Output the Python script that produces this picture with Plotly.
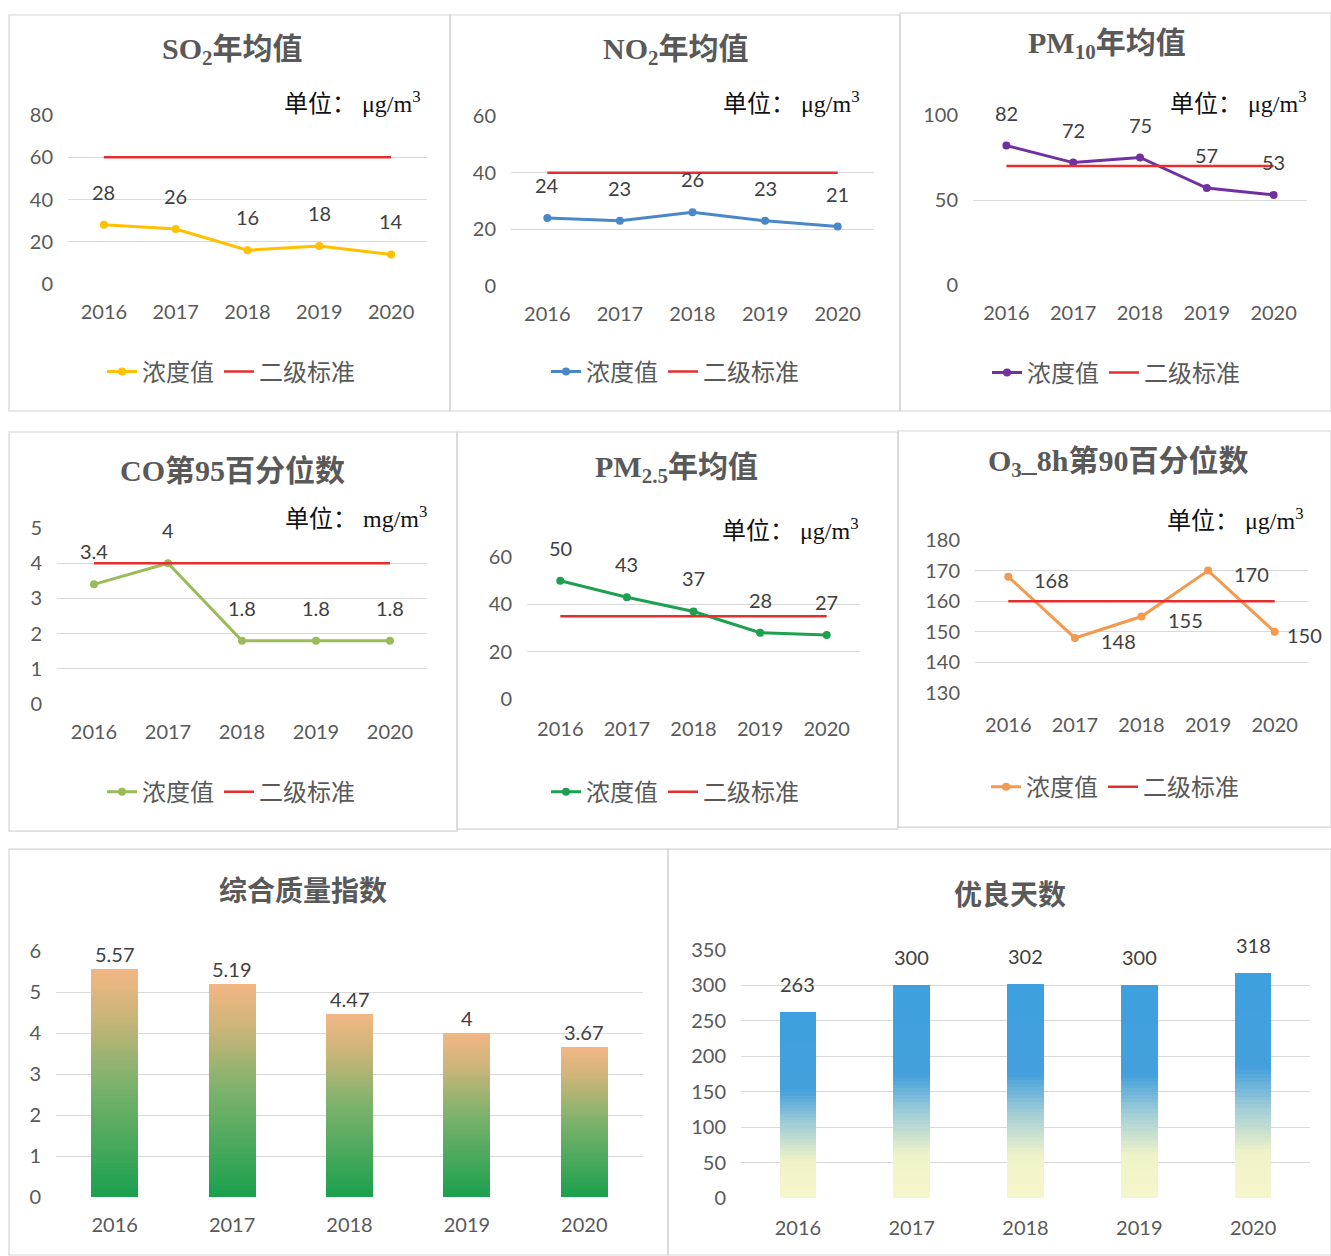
import plotly.graph_objects as go

W = 1331
# The renderer shows the page with a small top offset and a slight vertical squeeze;
# reference pixel rows are mapped through these two constants.
Y_OFF = 12
Y_SCALE = 0.981
H = 1266

years = ["2016", "2017", "2018", "2019", "2020"]

so2 = [28, 26, 16, 18, 14]
so2_std = [60, 60, 60, 60, 60]
no2 = [24, 23, 26, 23, 21]
no2_std = [40, 40, 40, 40, 40]
pm10 = [82, 72, 75, 57, 53]
pm10_std = [70, 70, 70, 70, 70]
co = [3.4, 4, 1.8, 1.8, 1.8]
co_std = [4, 4, 4, 4, 4]
pm25 = [50, 43, 37, 28, 27]
pm25_std = [35, 35, 35, 35, 35]
o3 = [168, 148, 155, 170, 150]
o3_std = [160, 160, 160, 160, 160]
aqi_index = [5.57, 5.19, 4.47, 4, 3.67]
good_days = [263, 300, 302, 300, 318]

legend_names = ["浓度值", "二级标准"]

GRID = "#D9D9D9"
TXT = "#595959"
LBL = "#404040"
RED = "#E62E2E"
TICKFONT = dict(family="Lato, Noto Sans CJK SC", size=20, color=TXT)
TITLEFONT_SERIF = dict(family="Liberation Serif, Noto Sans CJK SC", size=30, color=TXT)
TITLEFONT_SANS = dict(family="Noto Sans CJK SC", size=28, color=TXT)
UNITFONT = dict(family="Liberation Serif, Noto Sans CJK SC", size=24, color="#111111")


def xd(a, b):
    return [a / W, b / W]


def px_y(py):
    # py given in reference-image pixels
    yf = (py - Y_OFF) / Y_SCALE
    return 1 - yf / H


def yd(top, bot):
    return [px_y(bot), px_y(top)]


def clamp(v):
    return max(0.0, min(1.0, v))


fig = go.Figure()
annotations = []
shapes = []
layout = {}

# panel borders
borders = [(9, 14, 450, 410), (450, 14, 900, 410), (900, 12, 1331, 410),
           (9, 431, 457, 830), (457, 431, 898, 828), (898, 430, 1331, 826),
           (9, 848, 668, 1256), (668, 848, 1331, 1256)]
for (x0, y0, x1, y1) in borders:
    shapes.append(dict(type="rect", xref="paper", yref="paper",
                       x0=x0 / W, x1=x1 / W, y0=clamp(px_y(y1)), y1=clamp(px_y(y0)),
                       line=dict(color="#D4D4D4", width=1.2), fillcolor="rgba(0,0,0,0)",
                       layer="below"))

line_panels = [
    dict(vals=so2, std=so2_std, color="#FFC000", x=(68, 427), y=(114, 283), rng=[0, 80], dtick=20,
         title="<b>SO<sub>2</sub>年均值</b>", tx=232, ty=50,
         unit="单位： μg/m<sup>3</sup>", ux=423, uy=101, legx=231, legy=371, xlab_gap=10),
    dict(vals=no2, std=no2_std, color="#4A87C9", x=(511, 874), y=(115, 285), rng=[0, 60], dtick=20,
         title="<b>NO<sub>2</sub>年均值</b>", tx=676, ty=50,
         unit="单位： μg/m<sup>3</sup>", ux=862, uy=101, legx=675, legy=371, xlab_gap=10),
    dict(vals=pm10, std=pm10_std, color="#7030A0", x=(973, 1307), y=(114, 284), rng=[0, 100], dtick=50,
         title="<b>PM<sub>10</sub>年均值</b>", tx=1107, ty=44,
         unit="单位： μg/m<sup>3</sup>", ux=1309, uy=101, legx=1116, legy=372, xlab_gap=10),
    dict(vals=co, std=co_std, color="#9BBB59", x=(57, 427), y=(527, 703), rng=[0, 5], dtick=1,
         title="<b>CO第95百分位数</b>", tx=232, ty=469,
         unit="单位： mg/m<sup>3</sup>", ux=429, uy=516, legx=231, legy=791, xlab_gap=10),
    dict(vals=pm25, std=pm25_std, color="#1DA050", x=(527, 860), y=(556, 698), rng=[0, 60], dtick=20,
         title="<b>PM<sub>2.5</sub>年均值</b>", tx=676, ty=468,
         unit="单位： μg/m<sup>3</sup>", ux=861, uy=528, legx=675, legy=791, xlab_gap=12),
    dict(vals=o3, std=o3_std, color="#F39A4E", x=(975, 1308), y=(539, 692), rng=[130, 180], dtick=10,
         title="<b>O<sub>3</sub>_8h第90百分位数</b>", tx=1118, ty=462,
         unit="单位： μg/m<sup>3</sup>", ux=1306, uy=518, legx=1115, legy=786, xlab_gap=14,
         right_shifts=[24, 24, 24, 24, 10]),
]

for i, p in enumerate(line_panels, start=1):
    sx = "" if i == 1 else str(i)
    xa, ya = "x" + sx, "y" + sx
    leg = "legend" + sx
    fig.add_trace(go.Scatter(x=years, y=p["vals"], mode="lines+markers", name=legend_names[0],
                             line=dict(color=p["color"], width=3),
                             marker=dict(color=p["color"], size=8),
                             xaxis=xa, yaxis=ya, legend=leg, hoverinfo="x+y"))
    fig.add_trace(go.Scatter(x=years, y=p["std"], mode="lines", name=legend_names[1],
                             line=dict(color=RED, width=2.5),
                             xaxis=xa, yaxis=ya, legend=leg, hoverinfo="x+y"))
    layout["xaxis" + sx] = dict(domain=xd(*p["x"]), anchor=ya, type="category",
                                range=[-0.5, 4.5], showgrid=False, zeroline=False, showline=False,
                                ticks="outside", ticklen=p["xlab_gap"], tickcolor="rgba(0,0,0,0)",
                                tickfont=TICKFONT, fixedrange=True)
    layout["yaxis" + sx] = dict(domain=yd(*p["y"]), anchor=xa, range=p["rng"], dtick=p["dtick"],
                                tick0=p["rng"][0], showgrid=True, gridcolor=GRID, gridwidth=1.2,
                                zeroline=False, showline=False, ticks="outside", ticklen=10,
                                tickcolor="rgba(0,0,0,0)", tickfont=TICKFONT, fixedrange=True)
    layout[leg] = dict(orientation="h", x=p["legx"] / W, xanchor="center", y=px_y(p["legy"]),
                       yanchor="middle", bgcolor="rgba(0,0,0,0)", traceorder="normal",
                       font=dict(family="Noto Sans CJK SC", size=24, color=TXT),
                       itemwidth=30, tracegroupgap=0)
    annotations.append(dict(text=p["title"], x=p["tx"] / W, y=px_y(p["ty"]), xref="paper", yref="paper",
                            xanchor="center", yanchor="middle", showarrow=False, font=TITLEFONT_SERIF))
    annotations.append(dict(text=p["unit"], x=p["ux"] / W, y=px_y(p["uy"]), xref="paper", yref="paper",
                            xanchor="right", yanchor="middle", showarrow=False, font=UNITFONT))
    for k, v in enumerate(p["vals"]):
        if "right_shifts" in p:
            annotations.append(dict(text=f"{v:g}", x=k, y=v, xref=xa, yref=ya, showarrow=False,
                                    xanchor="left", yanchor="middle", xshift=p["right_shifts"][k], yshift=-3,
                                    font=dict(family="Lato", size=20, color=LBL)))
        else:
            annotations.append(dict(text=f"{v:g}", x=k, y=v, xref=xa, yref=ya, showarrow=False,
                                    xanchor="center", yanchor="middle", yshift=33,
                                    font=dict(family="Lato", size=20, color=LBL)))


def lerp_color(stops, t):
    for (t0, c0), (t1, c1) in zip(stops[:-1], stops[1:]):
        if t0 <= t <= t1:
            f = 0 if t1 == t0 else (t - t0) / (t1 - t0)
            c = [round(a + (b - a) * f) for a, b in zip(c0, c1)]
            return f"rgb({c[0]},{c[1]},{c[2]})"
    c = stops[-1][1]
    return f"rgb({c[0]},{c[1]},{c[2]})"


bar_panels = [
    dict(vals=aqi_index, x=(56, 643), y=(950, 1196), rng=[0, 6], dtick=1, width=0.4,
         stops=[(0.0, (26, 160, 78)), (0.5, (125, 178, 108)), (0.8, (205, 181, 122)), (1.0, (243, 182, 132))],
         title="<b>综合质量指数</b>", tx=303, ty=888, lshift=1, xgap=10),
    dict(vals=good_days, x=(741, 1310), y=(949, 1197), rng=[0, 350], dtick=50, width=0.32,
         stops=[(0.0, (246, 246, 204)), (0.2, (240, 242, 200)), (0.4, (160, 205, 215)),
                (0.58, (68, 160, 220)), (1.0, (62, 160, 222))],
         title="<b>优良天数</b>", tx=1010, ty=892, lshift=14, xgap=12),
]

NSEG = 60
for j, p in enumerate(bar_panels, start=7):
    sx = str(j)
    xa, ya = "x" + sx, "y" + sx
    for k in range(NSEG):
        t = (k + 0.5) / NSEG
        fig.add_trace(go.Bar(x=years, y=[v / NSEG for v in p["vals"]], width=p["width"],
                             marker=dict(color=lerp_color(p["stops"], t), line=dict(width=0)),
                             xaxis=xa, yaxis=ya, showlegend=False, hoverinfo="skip"))
    layout["xaxis" + sx] = dict(domain=xd(*p["x"]), anchor=ya, type="category",
                                range=[-0.5, 4.5], showgrid=False, zeroline=False, showline=False,
                                ticks="outside", ticklen=p["xgap"], tickcolor="rgba(0,0,0,0)",
                                tickfont=TICKFONT, fixedrange=True)
    layout["yaxis" + sx] = dict(domain=yd(*p["y"]), anchor=xa, range=p["rng"], dtick=p["dtick"],
                                tick0=0, showgrid=True, gridcolor=GRID, gridwidth=1.2,
                                zeroline=False, showline=False, ticks="outside", ticklen=10,
                                tickcolor="rgba(0,0,0,0)", tickfont=TICKFONT, fixedrange=True,
                                layer="below traces")
    annotations.append(dict(text=p["title"], x=p["tx"] / W, y=px_y(p["ty"]), xref="paper", yref="paper",
                            xanchor="center", yanchor="middle", showarrow=False, font=TITLEFONT_SANS))
    for k, v in enumerate(p["vals"]):
        annotations.append(dict(text=f"{v:g}", x=k, y=v, xref=xa, yref=ya, showarrow=False,
                                xanchor="center", yanchor="bottom", yshift=p["lshift"],
                                font=dict(family="Lato", size=20, color=LBL)))

fig.update_layout(**layout)
fig.update_layout(width=W, height=H, autosize=False, margin=dict(l=0, r=0, t=0, b=0),
                  paper_bgcolor="white", plot_bgcolor="white", barmode="stack", bargap=0,
                  annotations=annotations, shapes=shapes, hovermode="closest")

fig.write_html("out.html", config={"displayModeBar": False},
               post_script="document.documentElement.style.margin='0';"
                           "document.body.style.margin='0';document.body.style.padding='0';"
                           "document.body.style.overflow='hidden';")
